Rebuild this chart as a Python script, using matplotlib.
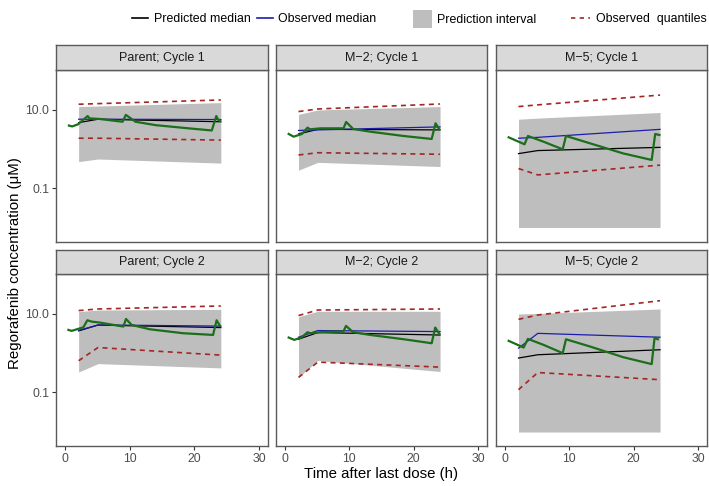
import numpy as np
import matplotlib
matplotlib.use("Agg")
import matplotlib.pyplot as plt
from matplotlib.lines import Line2D
from matplotlib.patches import Patch

plt.rcParams['font.family'] = ['Liberation Sans', 'DejaVu Sans']

# panel titles, row by row
panel_titles = ["Parent; Cycle 1", "M\u22122; Cycle 1", "M\u22125; Cycle 1",
                "Parent; Cycle 2", "M\u22122; Cycle 2", "M\u22125; Cycle 2"]

# time bins of the VPC summary (h)
bin_time = [2.1, 5.1, 24.1]

# prediction interval (lower / upper), one row per panel
pi_low = [[0.48, 0.56, 0.44],
          [0.29, 0.46, 0.36],
          [0.0100, 0.0100, 0.0100],
          [0.33, 0.54, 0.42],
          [0.24, 0.65, 0.34],
          [0.0097, 0.0097, 0.0097]]
pi_high = [[12.2, 12.6, 15.4],
           [7.7, 10.0, 12.2],
           [5.8, 6.2, 8.6],
           [11.5, 12.6, 13.1],
           [8.5, 11.7, 11.7],
           [10.0, 10.3, 13.4]]

# observed quantiles (dashed)
obs_q_low = [[1.9, 1.9, 1.7],
             [0.71, 0.81, 0.74],
             [0.32, 0.22, 0.39],
             [0.64, 1.39, 0.89],
             [0.24, 0.59, 0.44],
             [0.117, 0.32, 0.21]]
obs_q_high = [[14.0, 14.5, 18.0],
              [9.1, 10.6, 14.2],
              [12.2, 13.5, 24.0],
              [12.2, 13.4, 16.0],
              [9.1, 12.6, 13.4],
              [7.3, 9.4, 21.8]]

# medians
obs_median = [[5.8, 5.8, 5.7],
              [3.0, 3.1, 3.7],
              [1.9, 2.0, 3.2],
              [3.8, 5.25, 4.9],
              [2.55, 3.77, 3.55],
              [1.34, 3.2, 2.55]]
pred_median = [[4.75, 5.8, 5.0],
               [2.44, 3.2, 3.1],
               [0.77, 0.92, 1.11],
               [3.7, 5.2, 4.5],
               [2.27, 3.35, 2.9],
               [0.75, 0.91, 1.22]]

# simulated profile (green)
profile_time = [
    [0.6, 1.1, 2.0, 3.5, 3.8, 5.3, 8.9, 9.4, 10.9, 14.0, 19.1, 22.7, 23.4, 23.7, 24.0],
    [0.57, 1.34, 2.63, 3.5, 3.9, 5.5, 9.1, 9.5, 10.6, 13.2, 18.4, 22.8, 23.4, 24.0],
    [0.57, 3.04, 3.56, 5.98, 8.97, 9.48, 13.2, 18.35, 22.8, 23.35, 24.0],
    [0.52, 1.03, 2.84, 3.45, 4.12, 5.41, 9.02, 9.43, 10.3, 13.1, 18.3, 22.9, 23.45, 23.97],
    [0.57, 1.44, 2.63, 3.5, 3.92, 5.98, 9.07, 9.48, 10.6, 13.2, 18.4, 22.8, 23.35, 24.0],
    [0.57, 2.89, 3.56, 5.98, 8.97, 9.48, 13.2, 18.35, 22.8, 23.25, 23.76],
]
profile_conc = [
    [4.0, 3.8, 4.3, 7.0, 6.1, 5.9, 5.0, 7.5, 5.0, 4.1, 3.4, 3.0, 7.0, 5.6, 5.2],
    [2.44, 2.08, 2.44, 3.54, 3.21, 3.4, 3.4, 4.94, 3.27, 2.8, 2.17, 1.82, 4.57, 3.2],
    [2.0, 1.33, 2.17, 1.55, 0.99, 2.17, 1.41, 0.78, 0.53, 2.44, 2.3],
    [3.92, 3.70, 4.58, 6.9, 6.38, 6.02, 4.77, 7.46, 5.25, 4.07, 3.22, 2.92, 6.9, 4.95],
    [2.5, 2.18, 2.55, 3.42, 3.22, 3.48, 3.55, 4.95, 3.42, 2.92, 2.27, 1.79, 4.5, 3.1],
    [2.06, 1.39, 2.31, 1.63, 1.0, 2.26, 1.48, 0.79, 0.525, 2.45, 2.26],
]

x_ticks = [0, 10, 20, 30]
y_ticks = [0.1, 10]
y_tick_labels = ["0.1", "10.0"]

W, H = 709, 486
BAND = '#bebebe'
RED = '#a52525'
BLUE = '#1c1cab'
GREEN = '#1b6f1b'
FRAME = '#5a5a5a'
TICKTXT = '#4d4d4d'


def px_axes(fig, left, top, right, bottom):
    return fig.add_axes([left / W, 1 - bottom / H, (right - left) / W, (bottom - top) / H])


def draw_panel(ax, i, show_x, show_y):
    ax.fill_between(bin_time, pi_low[i], pi_high[i], color=BAND, lw=0)
    ax.plot(bin_time, obs_q_high[i], color=RED, lw=1.2, dashes=(3.0, 2.6))
    ax.plot(bin_time, obs_q_low[i], color=RED, lw=1.2, dashes=(3.0, 2.6))
    ax.plot(bin_time, pred_median[i], color='black', lw=0.9)
    ax.plot(bin_time, obs_median[i], color=BLUE, lw=0.9)
    ax.plot(profile_time[i], profile_conc[i], color=GREEN, lw=1.6)

    ax.set_yscale('log')
    ax.set_xlim(-1.4, 31.4)
    ax.set_ylim(10 ** -2.37, 10 ** 2.02)
    ax.set_xticks(x_ticks)
    ax.set_yticks(y_ticks)
    ax.minorticks_off()
    ax.tick_params(length=3, width=0.8, color='#333333', labelcolor=TICKTXT,
                   labelsize=8.8, pad=2)
    if show_y:
        ax.set_yticklabels(y_tick_labels)
    else:
        ax.tick_params(axis='y', left=False, labelleft=False)
    if show_x:
        ax.set_xticklabels([str(t) for t in x_ticks])
    else:
        ax.tick_params(axis='x', bottom=False, labelbottom=False)
    for s in ax.spines.values():
        s.set_color(FRAME)
        s.set_linewidth(1.0)


def draw_strip(fig, left, top, right, bottom, title):
    sa = px_axes(fig, left, top, right, bottom)
    sa.set_facecolor('#d9d9d9')
    sa.set_xticks([])
    sa.set_yticks([])
    for s in sa.spines.values():
        s.set_color(FRAME)
        s.set_linewidth(1.0)
    sa.text(0.5, 0.5, title, ha='center', va='center', fontsize=9, color='#1a1a1a',
            transform=sa.transAxes)


def draw_legend(fig):
    items = [
        (Line2D([], [], color='black', lw=1.2), "Predicted median", 132, 1.3, 0.45, 0.7),
        (Line2D([], [], color=BLUE, lw=1.2), "Observed median", 257, 1.3, 0.4, 0.7),
        (Patch(facecolor=BAND, edgecolor='none'), "Prediction interval", 413, 1.55, 0.4, 1.9),
        (Line2D([], [], color=RED, lw=1.2, dashes=(2.6, 2.6)), "Observed  quantiles", 571, 1.5, 0.5, 0.7),
    ]
    for handle, label, x0, hl, pad, hh in items:
        fig.legend([handle], [label], loc='center left', bbox_to_anchor=(x0 / W, 1 - 19 / H),
                   frameon=False, fontsize=8.9, handlelength=hl, handletextpad=pad,
                   handleheight=hh, borderpad=0, borderaxespad=0)


def main():
    fig = plt.figure(figsize=(W / 100, H / 100), dpi=100)

    cols = [(56, 268), (276, 487), (496, 707)]
    rows = [((45, 70), (70, 242)), ((250, 274), (274, 446))]

    for r, (strip, panel) in enumerate(rows):
        for c, (xl, xr) in enumerate(cols):
            i = r * 3 + c
            ax = px_axes(fig, xl, panel[0], xr, panel[1])
            draw_panel(ax, i, show_x=(r == 1), show_y=(c == 0))
            draw_strip(fig, xl, strip[0], xr, strip[1], panel_titles[i])

    fig.text(381 / W, 1 - 474 / H, "Time after last dose (h)", ha='center', va='center',
             fontsize=10.8, color='black')
    fig.text(15 / W, 1 - 263 / H, "Regorafenib concentration (\u03bcM)", ha='center',
             va='center', rotation=90, fontsize=10.8, color='black')

    draw_legend(fig)

    fig.savefig('out.png', dpi=100)


if __name__ == "__main__":
    main()
